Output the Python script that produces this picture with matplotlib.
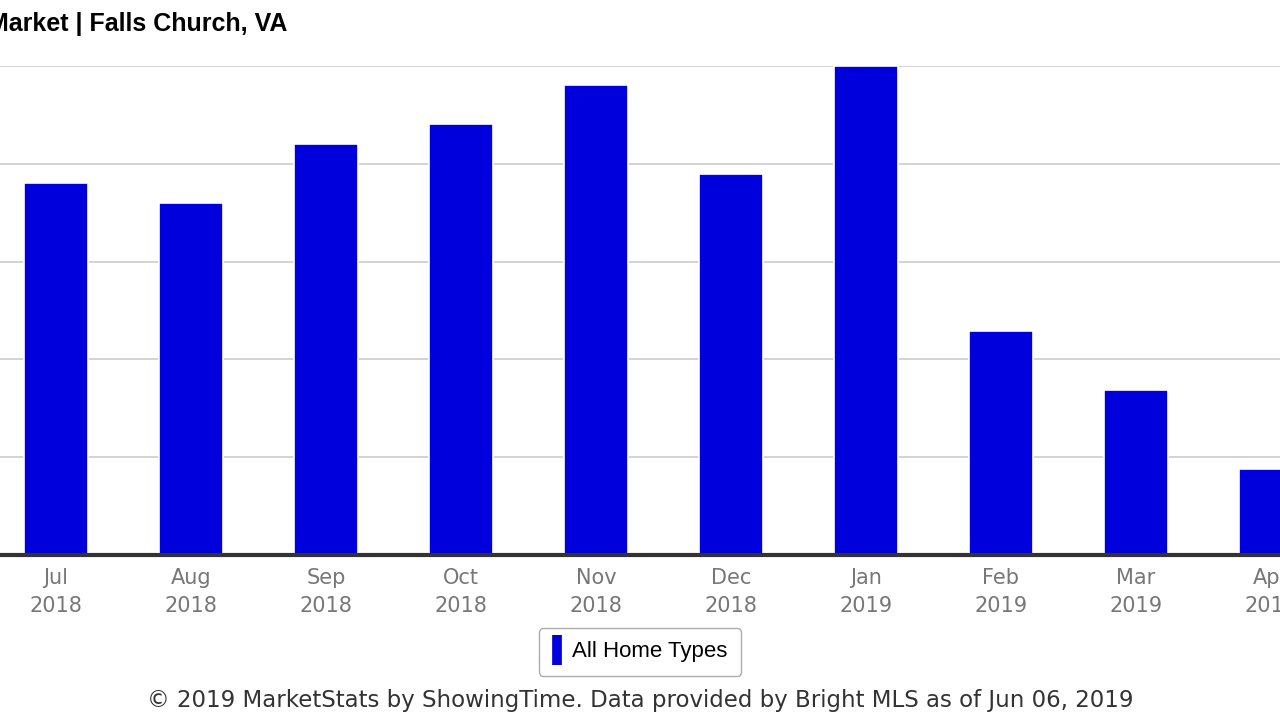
import matplotlib.pyplot as plt
from matplotlib.lines import Line2D

months = ["Jul\n2018", "Aug\n2018", "Sep\n2018", "Oct\n2018", "Nov\n2018",
          "Dec\n2018", "Jan\n2019", "Feb\n2019", "Mar\n2019", "Apr\n2019"]
values = [3.80, 3.60, 4.20, 4.41, 4.81, 3.90, 5.00, 2.29, 1.69, 0.88]

plt.rcParams["font.family"] = "sans-serif"
plt.rcParams["font.sans-serif"] = ["DejaVu Sans"]

fig = plt.figure(figsize=(12.8, 7.2), dpi=100)
ax = fig.add_axes([0, 1 - 555 / 720, 1, (555 - 66) / 720])
x = range(len(values))
ax.bar(x, values, width=0.47, color="#0000dd", edgecolor="white", linewidth=1.2, zorder=3)
ax.set_xlim(-56 / 135, (1280 - 56) / 135)
ax.set_ylim(0, 5)
ax.set_yticks([0, 1, 2, 3, 4, 5])
ax.yaxis.grid(True, color="#cccccc", linewidth=1.2, zorder=0)
ax.tick_params(axis="y", left=False, labelleft=False)
ax.set_xticks(list(x))
ax.set_xticklabels(months, color="#777777", fontsize=15, linespacing=1.55)
ax.tick_params(axis="x", length=0, pad=9)
for s in ["top", "right", "left"]:
    ax.spines[s].set_visible(False)
ax.spines["bottom"].set_color("#333333")
ax.spines["bottom"].set_linewidth(3)
ax.spines["bottom"].set_zorder(4)

fig.text(287 / 1280, 1 - 24 / 720, "Market | Falls Church, VA", ha="right", va="center",
         fontsize=18, fontweight="bold", family="Liberation Sans")

handle = Line2D([], [], marker="|", linestyle="none", color="#0000dd",
                markersize=22, markeredgewidth=7)
leg = fig.legend([handle], ["All Home Types"], loc="center", bbox_to_anchor=(640 / 1280, 1 - 652 / 720),
                 frameon=True, fancybox=True, edgecolor="#999999", handlelength=0.4,
                 handletextpad=0.5, borderpad=0.6,
                 prop={"family": "Liberation Sans", "size": 16})
fig.text(0.5, 1 - 700 / 720, "© 2019 MarketStats by ShowingTime. Data provided by Bright MLS as of Jun 06, 2019",
         ha="center", va="center", fontsize=16.5, color="#333333")

fig.savefig("out.png", dpi=100)
